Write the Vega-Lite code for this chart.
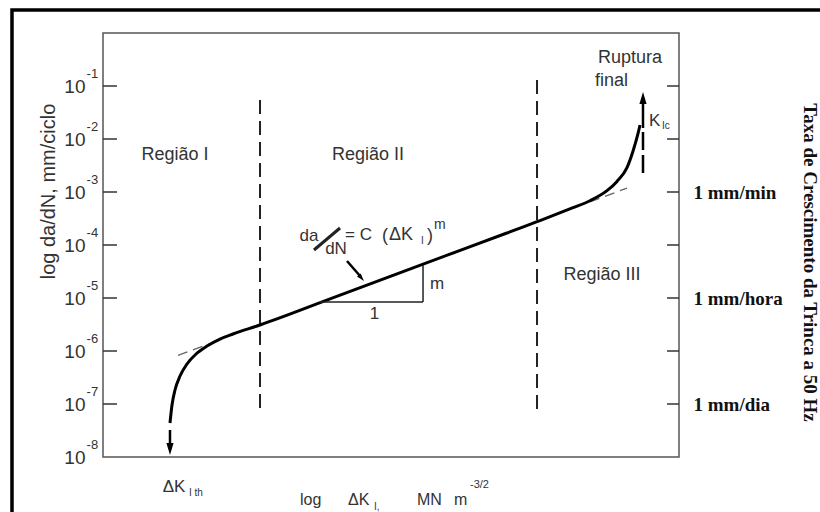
{
  "$schema": "https://vega.github.io/schema/vega-lite/v6.json",
  "width": 576,
  "height": 424,
  "autosize": {"type": "none"},
  "padding": {"left": 103, "top": 33, "right": 141, "bottom": 55},
  "background": "white",
  "config": {
    "view": {"stroke": "#555", "strokeWidth": 1.5},
    "text": {"font": "Liberation Sans", "color": "#333"}
  },
  "datasets": {
    "frame": [{"x": -1.58, "x2": 15, "y": 0.434, "y2": -12}],
    "ticksL": [
      {"y": -1, "x": 0, "x2": 0.243}, {"y": -2, "x": 0, "x2": 0.243}, {"y": -3, "x": 0, "x2": 0.243},
      {"y": -4, "x": 0, "x2": 0.243}, {"y": -5, "x": 0, "x2": 0.243}, {"y": -6, "x": 0, "x2": 0.243},
      {"y": -7, "x": 0, "x2": 0.243}
    ],
    "ticksR": [
      {"y": -1, "x": 9.792, "x2": 10}, {"y": -2, "x": 9.792, "x2": 10}, {"y": -3, "x": 9.792, "x2": 10},
      {"y": -4, "x": 9.792, "x2": 10}, {"y": -5, "x": 9.792, "x2": 10}, {"y": -6, "x": 9.792, "x2": 10},
      {"y": -7, "x": 9.792, "x2": 10}
    ],
    "exps": [
      {"x": -0.285, "y": -1, "t": "-1"}, {"x": -0.285, "y": -2, "t": "-2"}, {"x": -0.285, "y": -3, "t": "-3"},
      {"x": -0.285, "y": -4, "t": "-4"}, {"x": -0.285, "y": -5, "t": "-5"}, {"x": -0.285, "y": -6, "t": "-6"},
      {"x": -0.285, "y": -7, "t": "-7"}, {"x": -0.285, "y": -8, "t": "-8"}
    ],
    "regions": [
      {"x": 2.726, "y": -1.264, "y2": -7.170},
      {"x": 7.535, "y": -0.887, "y2": -7.113}
    ],
    "ext": [
      {"seg": "I", "x": 1.302, "y": -6.083}, {"seg": "I", "x": 1.979, "y": -5.811},
      {"seg": "III", "x": 8.455, "y": -3.187}, {"seg": "III", "x": 9.097, "y": -2.926}
    ],
    "curve": [
      {"x": 1.163, "y": -7.358}, {"x": 1.198, "y": -7.019}, {"x": 1.250, "y": -6.736},
      {"x": 1.337, "y": -6.472}, {"x": 1.458, "y": -6.245}, {"x": 1.615, "y": -6.057},
      {"x": 1.806, "y": -5.906}, {"x": 2.031, "y": -5.774}, {"x": 2.257, "y": -5.679},
      {"x": 2.726, "y": -5.509}, {"x": 4.0, "y": -4.993}, {"x": 5.0, "y": -4.588},
      {"x": 6.0, "y": -4.183}, {"x": 7.0, "y": -3.778}, {"x": 7.587, "y": -3.540},
      {"x": 8.160, "y": -3.295}, {"x": 8.455, "y": -3.165}, {"x": 8.750, "y": -2.975},
      {"x": 8.924, "y": -2.800}, {"x": 9.097, "y": -2.540}, {"x": 9.201, "y": -2.230},
      {"x": 9.288, "y": -1.900}, {"x": 9.323, "y": -1.736}
    ],
    "shafts": [
      {"x": 1.163, "y": -7.491, "x2": 1.163, "y2": -7.774},
      {"x": 9.375, "y": -1.321, "x2": 9.375, "y2": -1.792},
      {"x": 4.236, "y": -4.302, "x2": 4.479, "y2": -4.604}
    ],
    "dashArrow": [{"x": 9.375, "y": -1.868, "x2": 9.375, "y2": -2.642}],
    "triangle": [
      {"x": 3.767, "y": -5.075, "x2": 5.556, "y2": -5.075},
      {"x": 5.556, "y": -5.075, "x2": 5.556, "y2": -4.377}
    ],
    "slash": [{"x": 3.663, "y": -4.094, "x2": 4.115, "y2": -3.679}],
    "headDown": [{"x": 1.163, "y": -7.849}],
    "headUp": [{"x": 9.375, "y": -1.226}],
    "headPointer": [{"x": 4.486, "y": -4.623}],
    "t18c": [
      {"x": 1.25, "y": -2.302, "t": "Região I"},
      {"x": 4.601, "y": -2.302, "t": "Região II"},
      {"x": 8.663, "y": -4.566, "t": "Região III"},
      {"x": 9.149, "y": -0.472, "t": "Ruptura"}
    ],
    "t18l": [
      {"x": 8.542, "y": -0.906, "t": "final"},
      {"x": 4.844, "y": -3.830, "t": "("},
      {"x": 4.965, "y": -3.811, "t": "ΔK"},
      {"x": 5.625, "y": -3.830, "t": ")"}
    ],
    "tK": [{"x": 9.480, "y": -1.660, "t": "K"}],
    "t17c": [
      {"x": 3.577, "y": -3.821, "t": "da"},
      {"x": 4.045, "y": -4.075, "t": "dN"},
      {"x": 4.714, "y": -5.302, "t": "1"},
      {"x": 1.233, "y": -8.575, "t": "ΔK"}
    ],
    "t17l": [
      {"x": 4.201, "y": -3.811, "t": "= C"},
      {"x": 5.677, "y": -4.736, "t": "m"}
    ],
    "tsub": [
      {"x": 9.705, "y": -1.755, "t": "Ic"},
      {"x": 5.520, "y": -3.925, "t": "I"},
      {"x": 1.493, "y": -8.679, "t": "I th"}
    ],
    "tsup": [{"x": 5.747, "y": -3.623, "t": "m"}],
    "xtitle": [
      {"x": 3.420, "y": -8.906, "t": "log"},
      {"x": 4.253, "y": -8.906, "t": "ΔK"},
      {"x": 5.451, "y": -8.906, "t": "MN"},
      {"x": 6.094, "y": -8.906, "t": "m"}
    ],
    "xtitleSub": [{"x": 4.705, "y": -9.0, "t": "I,"}],
    "xtitleSup": [{"x": 6.372, "y": -8.528, "t": "-3/2"}]
  },
  "encoding": {
    "x": {"field": "x", "type": "quantitative", "scale": {"domain": [0, 10], "nice": false, "zero": false}, "axis": null},
    "y": {"field": "y", "type": "quantitative", "scale": {"domain": [-8, 0], "nice": false, "zero": false}, "axis": null}
  },
  "layer": [
    {
      "data": {"name": "frame"},
      "mark": {"type": "rect", "filled": false, "stroke": "black", "strokeWidth": 3.5, "fillOpacity": 0},
      "encoding": {"x2": {"field": "x2"}, "y2": {"field": "y2"}}
    },
    {
      "data": {"name": "ticksL"},
      "mark": {"type": "rule", "color": "#333", "strokeWidth": 1.5},
      "encoding": {
        "x2": {"field": "x2"},
        "y": {
          "field": "y", "type": "quantitative",
          "scale": {"domain": [-8, 0], "nice": false, "zero": false},
          "axis": {
            "orient": "left", "values": [-8, -7, -6, -5, -4, -3, -2, -1],
            "labelExpr": "'10'", "ticks": false, "domain": false, "grid": false,
            "labelFont": "Liberation Sans", "labelFontSize": 19, "labelColor": "#333",
            "labelPadding": 18, "labelOverlap": false, "labelFlush": false, "labelBound": false,
            "title": "log  da/dN,   mm/ciclo", "titleFont": "Liberation Sans", "titleFontSize": 20,
            "titleFontWeight": "normal", "titleColor": "#333", "titleX": -55, "titleY": 158,
            "titleAngle": -90, "titleAlign": "center", "titleBaseline": "middle"
          }
        }
      }
    },
    {
      "data": {"name": "ticksR"},
      "mark": {"type": "rule", "color": "#333", "strokeWidth": 1.5},
      "encoding": {
        "x2": {"field": "x2"},
        "y": {
          "field": "y", "type": "quantitative",
          "scale": {"domain": [-8, 0], "nice": false, "zero": false},
          "axis": {
            "orient": "right", "values": [-3, -5, -7],
            "labelExpr": "datum.value == -3 ? '1 mm/min' : datum.value == -5 ? '1 mm/hora' : '1 mm/dia'",
            "ticks": false, "domain": false, "grid": false,
            "labelFont": "Liberation Serif", "labelFontWeight": "bold", "labelFontSize": 19, "labelColor": "#111",
            "labelPadding": 14, "labelOverlap": false, "labelBound": false,
            "title": "Taxa de Crescimento da Trinca a 50 Hz", "titleFont": "Liberation Serif", "titleFontSize": 19,
            "titleFontWeight": "bold", "titleColor": "#111", "titleX": 130, "titleY": 229,
            "titleAngle": 90, "titleAlign": "center", "titleBaseline": "middle"
          }
        }
      }
    },
    {
      "data": {"name": "exps"},
      "mark": {"type": "text", "align": "left", "baseline": "middle", "fontSize": 13, "dy": -12},
      "encoding": {"text": {"field": "t"}}
    },
    {
      "data": {"name": "regions"},
      "mark": {"type": "rule", "color": "#222", "strokeWidth": 2, "strokeDash": [14, 7]},
      "encoding": {"y2": {"field": "y2"}}
    },
    {
      "data": {"name": "ext"},
      "mark": {"type": "line", "color": "#666", "strokeWidth": 1.3, "strokeDash": [10, 6]},
      "encoding": {"detail": {"field": "seg"}}
    },
    {
      "data": {"name": "curve"},
      "mark": {"type": "line", "color": "black", "strokeWidth": 3, "interpolate": "monotone"},
      "encoding": {}
    },
    {
      "data": {"name": "shafts"},
      "mark": {"type": "rule", "color": "black", "strokeWidth": 2.5},
      "encoding": {"x2": {"field": "x2"}, "y2": {"field": "y2"}}
    },
    {
      "data": {"name": "dashArrow"},
      "mark": {"type": "rule", "color": "black", "strokeWidth": 2.5, "strokeDash": [18, 5]},
      "encoding": {"x2": {"field": "x2"}, "y2": {"field": "y2"}}
    },
    {
      "data": {"name": "triangle"},
      "mark": {"type": "rule", "color": "#222", "strokeWidth": 1.5},
      "encoding": {"x2": {"field": "x2"}, "y2": {"field": "y2"}}
    },
    {
      "data": {"name": "slash"},
      "mark": {"type": "rule", "color": "#222", "strokeWidth": 3},
      "encoding": {"x2": {"field": "x2"}, "y2": {"field": "y2"}}
    },
    {
      "data": {"name": "headDown"},
      "mark": {"type": "point", "shape": "M-0.6,-1L0.6,-1L0,1Z", "filled": true, "color": "black", "opacity": 1, "size": 144},
      "encoding": {}
    },
    {
      "data": {"name": "headUp"},
      "mark": {"type": "point", "shape": "M-0.6,1L0.6,1L0,-1Z", "filled": true, "color": "black", "opacity": 1, "size": 144},
      "encoding": {}
    },
    {
      "data": {"name": "headPointer"},
      "mark": {"type": "point", "shape": "M-0.6,-1L0.6,-1L0,1Z", "filled": true, "color": "black", "opacity": 1, "size": 64, "angle": 320},
      "encoding": {}
    },
    {
      "data": {"name": "t18c"},
      "mark": {"type": "text", "align": "center", "baseline": "middle", "fontSize": 18},
      "encoding": {"text": {"field": "t"}}
    },
    {
      "data": {"name": "t18l"},
      "mark": {"type": "text", "align": "left", "baseline": "middle", "fontSize": 18},
      "encoding": {"text": {"field": "t"}}
    },
    {
      "data": {"name": "tK"},
      "mark": {"type": "text", "align": "left", "baseline": "middle", "fontSize": 17},
      "encoding": {"text": {"field": "t"}}
    },
    {
      "data": {"name": "t17c"},
      "mark": {"type": "text", "align": "center", "baseline": "middle", "fontSize": 17},
      "encoding": {"text": {"field": "t"}}
    },
    {
      "data": {"name": "t17l"},
      "mark": {"type": "text", "align": "left", "baseline": "middle", "fontSize": 17},
      "encoding": {"text": {"field": "t"}}
    },
    {
      "data": {"name": "tsub"},
      "mark": {"type": "text", "align": "left", "baseline": "middle", "fontSize": 10},
      "encoding": {"text": {"field": "t"}}
    },
    {
      "data": {"name": "tsup"},
      "mark": {"type": "text", "align": "left", "baseline": "middle", "fontSize": 14},
      "encoding": {"text": {"field": "t"}}
    },
    {
      "data": {"name": "xtitle"},
      "mark": {"type": "text", "align": "left", "baseline": "alphabetic", "fontSize": 16},
      "encoding": {"text": {"field": "t"}}
    },
    {
      "data": {"name": "xtitleSub"},
      "mark": {"type": "text", "align": "left", "baseline": "alphabetic", "fontSize": 10},
      "encoding": {"text": {"field": "t"}}
    },
    {
      "data": {"name": "xtitleSup"},
      "mark": {"type": "text", "align": "left", "baseline": "middle", "fontSize": 11},
      "encoding": {"text": {"field": "t"}}
    }
  ],
  "resolve": {"axis": {"y": "independent"}}
}
